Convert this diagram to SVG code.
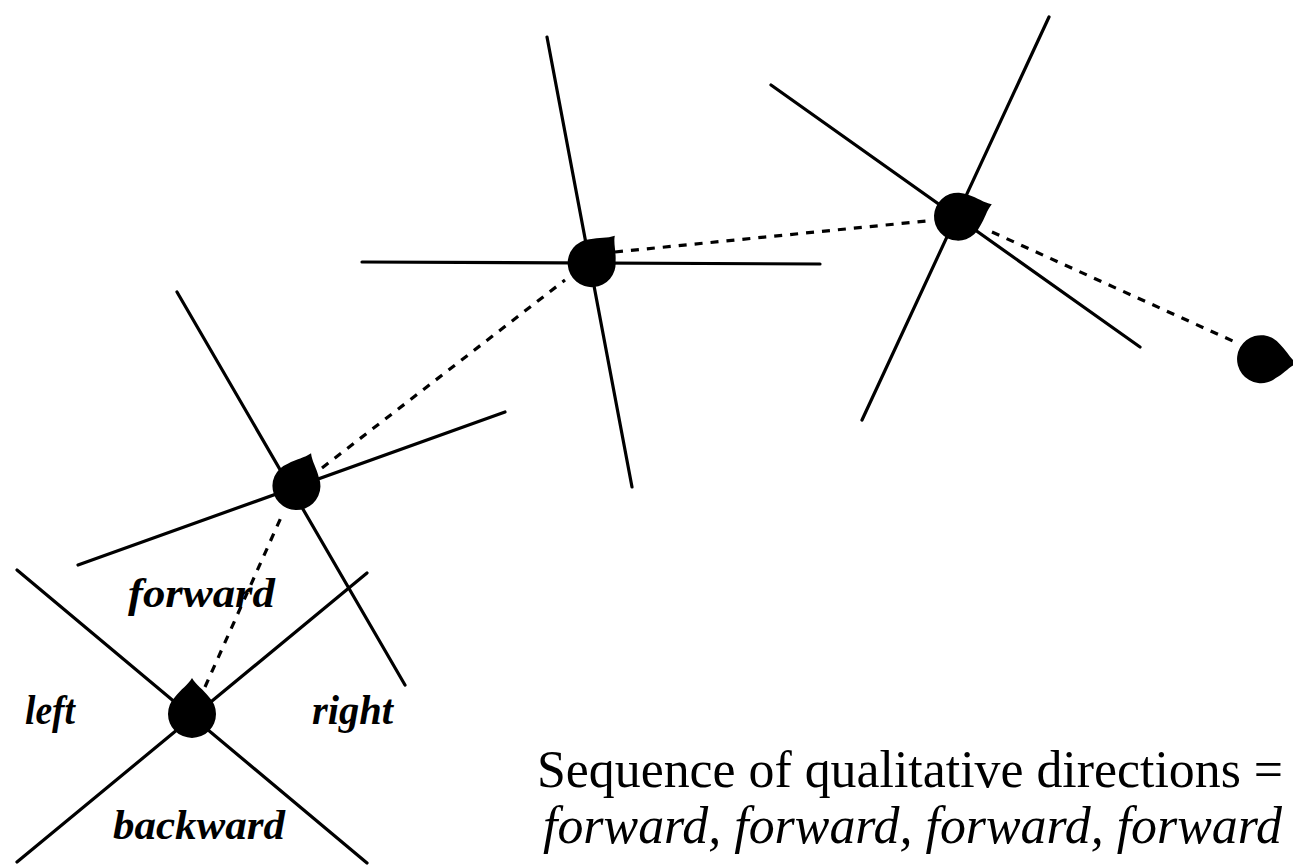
<svg xmlns="http://www.w3.org/2000/svg" width="1293" height="865" viewBox="0 0 1293 865">
<style>
.ax{stroke:#000;stroke-width:3.2;fill:none;stroke-linecap:round}
.dash{stroke:#000;stroke-width:3.2;fill:none;stroke-dasharray:8 8}
.blob{fill:#000}
.lbl{font-family:"Liberation Serif","Times New Roman",serif;font-style:italic;font-weight:bold;font-size:42px;fill:#000}
.cap{font-family:"Liberation Serif","Times New Roman",serif;font-size:52px;fill:#000}
</style>
<defs>
<path id="drop" d="M0,-37 C4,-30 11,-26 17,-18 A24,24 0 1 1 -17,-18 C-11,-26 -4,-30 0,-37 Z"/>
</defs>
<rect width="1293" height="865" fill="#fff"/>
<g id="axes">
<line class="ax" x1="17" y1="570" x2="367" y2="863"/>
<line class="ax" x1="367" y1="573" x2="17" y2="862"/>
<line class="ax" x1="78" y1="565" x2="505" y2="412"/>
<line class="ax" x1="177" y1="292" x2="405" y2="685"/>
<line class="ax" x1="362" y1="262" x2="820" y2="264"/>
<line class="ax" x1="547" y1="37" x2="632" y2="487"/>
<line class="ax" x1="771" y1="85" x2="1140" y2="347"/>
<line class="ax" x1="1049" y1="17" x2="862" y2="420"/>
</g>
<g id="connectors">
<line class="dash" x1="205" y1="687" x2="283" y2="513"/>
<line class="dash" x1="322" y1="468" x2="565" y2="280"/>
<line class="dash" x1="615" y1="252" x2="926" y2="221"/>
<line class="dash" x1="992" y1="232" x2="1235" y2="342"/>
</g>
<g id="node1"><use href="#drop" class="blob" transform="translate(192,715)"/></g>
<g id="node2"><use href="#drop" class="blob" transform="translate(296,487) rotate(24)"/></g>
<g id="node3"><use href="#drop" class="blob" transform="translate(591,264) rotate(40)"/></g>
<g id="node4"><use href="#drop" class="blob" transform="translate(957,217) rotate(70)"/></g>
<g id="node5"><use href="#drop" class="blob" transform="translate(1260,359) rotate(97)"/></g>
<g id="labels">
<text class="lbl" x="128" y="607" textLength="147" lengthAdjust="spacingAndGlyphs">forward</text>
<text class="lbl" x="25" y="724" textLength="50" lengthAdjust="spacingAndGlyphs">left</text>
<text class="lbl" x="312" y="724" textLength="81" lengthAdjust="spacingAndGlyphs">right</text>
<text class="lbl" x="113" y="839" textLength="172" lengthAdjust="spacingAndGlyphs">backward</text>
<text class="cap" x="537" y="787" textLength="746" lengthAdjust="spacingAndGlyphs">Sequence of qualitative directions =</text>
<text class="cap" x="543" y="843" font-style="italic" textLength="739" lengthAdjust="spacingAndGlyphs">forward, forward, forward, forward</text>
</g>
</svg>
